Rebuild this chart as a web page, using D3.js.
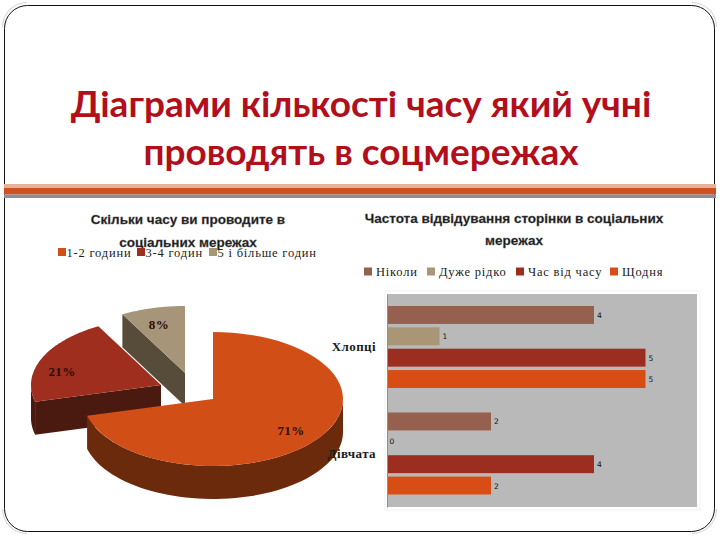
<!DOCTYPE html>
<html><head><meta charset="utf-8">
<script src="https://cdn.jsdelivr.net/npm/d3@7/dist/d3.min.js"></script>
<style>html,body{margin:0;padding:0;background:#fff}svg{display:block}</style>
</head><body><svg id="c" width="720" height="540"></svg>
<script>
const titleLines = ["Діаграми кількості часу який учні", "проводять в соцмережах"];
const pieTitleLines = ["Скільки часу ви проводите в", "соціальних мережах"];
const pieCategories = ["1-2 години", "3-4 годин", "5 і більше годин"];
const pieValues = [71, 21, 8];
const pieColors = ["#d24e17", "#a02e1e", "#a7957a"];
const pieSideColors = ["#6b2a0c", "#4a1a10", "#574c3a"];
const barTitleLines = ["Частота відвідування сторінки в соціальних", "мережах"];
const barGroups = ["Хлопці", "Дівчата"];
const barSeries = ["Ніколи", "Дуже рідко", "Час від часу", "Щодня"];
const boysValues = [4, 1, 5, 5];
const girlsValues = [2, 0, 4, 2];
const barColors = ["#96604e", "#a89676", "#9c2e1f", "#d84d14"];

const svg = d3.select("#c");
const serif = "'Liberation Serif','Times New Roman',serif";
const sans = "'Liberation Sans',Arial,sans-serif";

// slide frame with faint corner ornaments
const cornerArc = d3.arc().innerRadius(24).outerRadius(25);
[[27,27,-Math.PI/2,0],[692,27,0,Math.PI/2],[27,509,Math.PI,Math.PI*1.5],[692,509,Math.PI/2,Math.PI]].forEach(([cx,cy,a,b])=>{
  svg.append("path").attr("transform",`translate(${cx},${cy})`)
    .attr("d",cornerArc({startAngle:a,endAngle:b})).attr("fill","#d4d4d4");
});
svg.append("rect").attr("x",4.5).attr("y",5.5).attr("width",710).attr("height",526).attr("rx",23)
  .attr("fill","none").attr("stroke","#111").attr("stroke-width",1);

// title
svg.selectAll("text.t").data(titleLines).join("text").attr("class","t")
  .attr("x",361).attr("y",(d,i)=>117+i*48).attr("text-anchor","middle")
  .attr("font-family","Lato, sans-serif").attr("font-weight",700).attr("font-size",37)
  .attr("fill","#b20f1c").text(d=>d);

// divider
svg.append("rect").attr("x",4).attr("y",184).attr("width",712).attr("height",4).attr("fill","#e8b09a");
svg.append("rect").attr("x",4).attr("y",188).attr("width",712).attr("height",6.5).attr("fill","#cf5020");
svg.append("rect").attr("x",4).attr("y",194.5).attr("width",712).attr("height",3.5).attr("fill","#8e8c9a");

// chart titles
function heading(lines, cx, y0, dy, size){
  svg.append("g").selectAll("text").data(lines).join("text")
    .attr("x",cx).attr("y",(d,i)=>y0+i*dy).attr("text-anchor","middle")
    .attr("font-family",sans).attr("font-weight",700).attr("font-size",size)
    .attr("fill","#1a1a1a").attr("stroke","#555").attr("stroke-width",0.3).text(d=>d);
}
heading(pieTitleLines,188,224,23,13.5);
heading(barTitleLines,514,223,22,13.5);

// legends
function legend(names, colors, swatchX, textGap, y){
  const g = svg.append("g");
  names.forEach((n,i)=>{
    g.append("rect").attr("x",swatchX[i]).attr("y",y-8.5).attr("width",8).attr("height",8).attr("fill",colors[i]);
    g.append("text").attr("x",swatchX[i]+textGap+8).attr("y",y).attr("font-family",serif)
      .attr("font-size",12.5).attr("letter-spacing",0.8).attr("fill","#222").text(n);
  });
}
legend(pieCategories,pieColors,[58,137,209],0.5,256.5);
legend(barSeries,barColors,[364,427,516,610],4,276);

// exploded 3D pie
const rx = 130, ry = 67, depth = 33;
const sliceCentres = [[213,399],[161,385],[185,373]];
const labelSpots = [[291,435],[62,376],[159,329]];
const arcs = d3.pie().sort(null).value(d=>d)(pieValues);
const lineGen = d3.line();
const rim = (c,a)=>[c[0]+rx*Math.sin(a), c[1]-ry*Math.cos(a)];
const steps = (a,b)=>d3.range(0,61).map(k=>a+(b-a)*k/60);
const pieG = svg.append("g");
[2,1,0].forEach(i=>{
  const a = arcs[i], c = sliceCentres[i];
  const start = rim(c,a.startAngle);
  pieG.append("path").attr("fill",pieSideColors[i]).attr("d",lineGen([c,start,[start[0],start[1]+depth],[c[0],c[1]+depth]])+"Z");
  const lo = Math.max(a.startAngle,Math.PI/2), hi = Math.min(a.endAngle,Math.PI*1.5);
  if(hi>lo){
    const top = steps(lo,hi).map(t=>rim(c,t));
    const bottom = top.slice().reverse().map(p=>[p[0],p[1]+depth]);
    pieG.append("path").attr("fill",pieSideColors[i]).attr("d",lineGen(top.concat(bottom))+"Z");
  }
  const surf = [c].concat(steps(a.startAngle,a.endAngle).map(t=>rim(c,t)));
  pieG.append("path").attr("fill",pieColors[i]).attr("d",lineGen(surf)+"Z");
});
pieValues.forEach((v,i)=>{
  pieG.append("text").attr("x",labelSpots[i][0]).attr("y",labelSpots[i][1]).attr("text-anchor","middle")
    .attr("font-family",serif).attr("font-size",13).attr("font-weight",700).attr("letter-spacing",0.4)
    .attr("fill","#2a0d08").text(v+"%");
});

// bar chart
const plot = {x0:387,x1:697,y0:294,y1:507};
svg.append("rect").attr("x",plot.x0-2).attr("y",plot.y0-3).attr("width",plot.x1-plot.x0+5).attr("height",plot.y1-plot.y0+6).attr("fill","#fff").attr("stroke","#f2f2f2");
svg.append("rect").attr("x",plot.x0).attr("y",plot.y0).attr("width",plot.x1-plot.x0).attr("height",plot.y1-plot.y0).attr("fill","#b9b9b9");
const x = d3.scaleLinear().domain([0,6]).range([plot.x0+1,plot.x1]);
const y0 = d3.scaleBand().domain(barGroups).range([plot.y0,plot.y1]);
const y1 = d3.scaleBand().domain(barSeries).range([12,y0.bandwidth()-12.5]).paddingInner(0.16).paddingOuter(0);
const groupValues = [boysValues,girlsValues];
barGroups.forEach((g,gi)=>{
  const gg = svg.append("g").attr("transform",`translate(0,${y0(g)})`);
  barSeries.forEach((s,si)=>{
    const v = groupValues[gi][si];
    if(v>0) gg.append("rect").attr("x",x(0)).attr("y",y1(s)).attr("width",x(v)-x(0)).attr("height",y1.bandwidth()).attr("fill",barColors[si]);
    gg.append("text").attr("x",x(v)+(v>0?3:1.5)).attr("y",y1(s)+y1.bandwidth()/2+(v>0?3:1))
      .attr("font-family","'DejaVu Sans',sans-serif").attr("font-size",7.5).attr("fill","#111").text(v);
  });
});
const axis = svg.append("g").attr("transform",`translate(${plot.x0},0)`).call(d3.axisLeft(y0).tickSize(0).tickPadding(11));
axis.select(".domain").attr("stroke","#8f8f8f");
axis.selectAll("text").attr("font-family",serif).attr("font-weight",700).attr("font-size",13).attr("letter-spacing",0.4).attr("fill","#1a1a1a");
</script></body></html>
